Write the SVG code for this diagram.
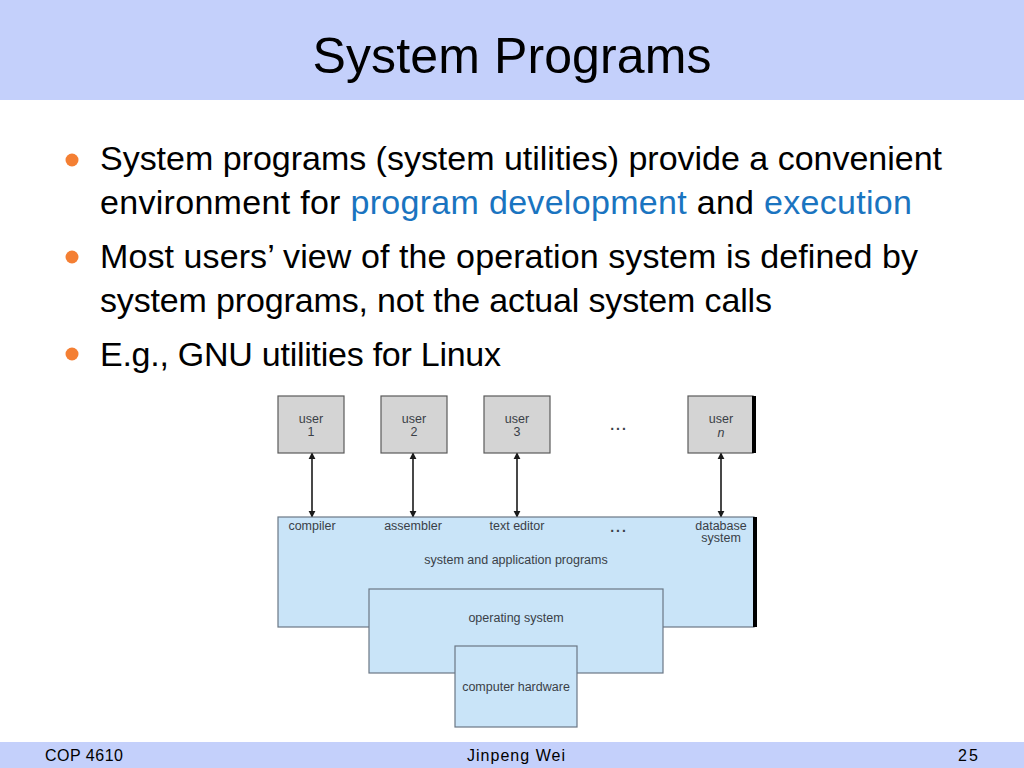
<svg xmlns="http://www.w3.org/2000/svg" width="1024" height="768" viewBox="0 0 1024 768">
<style>
.bar{fill:#C4D0FB}
.title{font-family:"Liberation Sans",Arial,sans-serif;font-size:50px;fill:#000}
.body{font-family:"Liberation Sans",Arial,sans-serif;font-size:34px;fill:#000}
.hl{fill:#1A74C0}
.dot{fill:#F47F33}
.foot{font-family:"Liberation Sans",Arial,sans-serif;font-size:16px;fill:#000}
.ubox{fill:#D4D4D4;stroke:#5a5a5a;stroke-width:1.2}
.bbox{fill:#C9E4F8;stroke:#6b7785;stroke-width:1.2}
.lbl{font-family:"Liberation Sans",Arial,sans-serif;font-size:12.5px;fill:#3a3f47;text-anchor:middle}
.dots{font-family:"Liberation Sans",Arial,sans-serif;font-size:14px;font-weight:bold;fill:#3a3f47;text-anchor:middle;letter-spacing:2px}
.conn{stroke:#1a1a1a;stroke-width:1.6;fill:none;marker-start:url(#ah);marker-end:url(#ah)}
.edge{fill:#000}
</style>
<defs>
<marker id="ah" viewBox="0 0 10 10" refX="9" refY="5" markerWidth="4.5" markerHeight="4.5" orient="auto-start-reverse" markerUnits="strokeWidth">
<path d="M0,0 L10,5 L0,10 Z" fill="#1a1a1a"/>
</marker>
</defs>
<rect width="1024" height="768" fill="#fff"/>
<rect class="bar" x="0" y="0" width="1024" height="100"/>
<text class="title" x="512" y="73" text-anchor="middle" textLength="399">System Programs</text>

<g id="bullets">
<circle class="dot" cx="72" cy="160" r="6.5"/>
<circle class="dot" cx="72" cy="257" r="6.5"/>
<circle class="dot" cx="72" cy="354" r="6.5"/>
<text class="body" x="100" y="170" textLength="842">System programs (system utilities) provide a convenient</text>
<text class="body" x="100" y="214" textLength="812">environment for <tspan class="hl">program development</tspan> and <tspan class="hl">execution</tspan></text>
<text class="body" x="100" y="268" textLength="818">Most users’ view of the operation system is defined by</text>
<text class="body" x="100" y="312" textLength="672">system programs, not the actual system calls</text>
<text class="body" x="100" y="366" textLength="401">E.g., GNU utilities for Linux</text>
</g>

<g id="connectors">
<line class="conn" x1="312" y1="453" x2="312" y2="517"/>
<line class="conn" x1="413" y1="453" x2="413" y2="517"/>
<line class="conn" x1="517" y1="453" x2="517" y2="517"/>
<line class="conn" x1="721" y1="453" x2="721" y2="517"/>
</g>

<g id="user1">
<rect class="ubox" x="278" y="396" width="66" height="57"/>
<text class="lbl" x="311" y="423">user</text>
<text class="lbl" x="311" y="436">1</text>
</g>
<g id="user2">
<rect class="ubox" x="381" y="396" width="66" height="57"/>
<text class="lbl" x="414" y="423">user</text>
<text class="lbl" x="414" y="436">2</text>
</g>
<g id="user3">
<rect class="ubox" x="484" y="396" width="66" height="57"/>
<text class="lbl" x="517" y="423">user</text>
<text class="lbl" x="517" y="436">3</text>
</g>
<g id="userdots">
<text class="dots" x="619" y="430">...</text>
</g>
<g id="usern">
<rect class="ubox" x="688" y="396" width="65" height="57"/>
<rect class="edge" x="752" y="396" width="4" height="57"/>
<text class="lbl" x="721" y="423">user</text>
<text class="lbl" x="721" y="437" font-style="italic">n</text>
</g>

<g id="programs">
<rect class="bbox" x="278" y="517" width="476" height="110"/>
<rect class="edge" x="753" y="517" width="4" height="110"/>
<text class="lbl" x="312" y="530">compiler</text>
<text class="lbl" x="413" y="530">assembler</text>
<text class="lbl" x="517" y="530">text editor</text>
<text class="dots" x="619" y="532">...</text>
<text class="lbl" x="721" y="530">database</text>
<text class="lbl" x="721" y="542">system</text>
<text class="lbl" x="516" y="564">system and application programs</text>
</g>

<g id="os">
<rect class="bbox" x="369" y="589" width="294" height="84"/>
<text class="lbl" x="516" y="622">operating system</text>
</g>

<g id="hardware">
<rect class="bbox" x="455" y="646" width="122" height="81"/>
<text class="lbl" x="516" y="691">computer hardware</text>
</g>

<g id="footer">
<rect class="bar" x="0" y="742" width="1024" height="26"/>
<text class="foot" x="45" y="761" textLength="78">COP 4610</text>
<text class="foot" x="516" y="761" text-anchor="middle" textLength="98">Jinpeng Wei</text>
<text class="foot" x="958" y="761" textLength="20">25</text>
</g>
</svg>
